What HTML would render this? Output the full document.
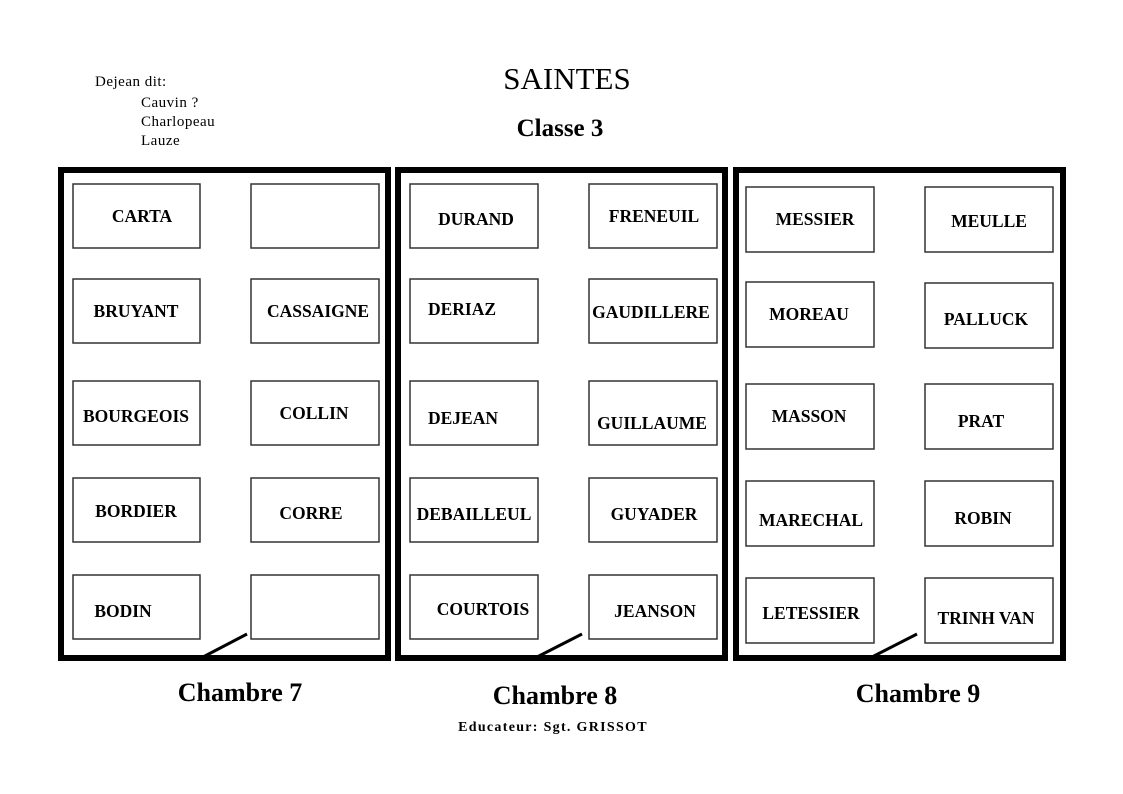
<!DOCTYPE html>
<html><head><meta charset="utf-8"><style>
html,body{margin:0;padding:0;background:#fff;}
svg{display:block;}
.b{font-family:"Liberation Serif",serif;font-weight:bold;font-size:17.5px;fill:#000;text-anchor:middle;dominant-baseline:central;}
.n{font-family:"Liberation Serif",serif;font-size:15px;letter-spacing:0.5px;fill:#000;}
</style></head><body>
<svg width="1123" height="794" viewBox="0 0 1123 794" xmlns="http://www.w3.org/2000/svg">
<text x="567" y="89" font-family="Liberation Serif,serif" font-size="31" text-anchor="middle">SAINTES</text>
<text x="560" y="136" font-family="Liberation Serif,serif" font-size="25" font-weight="bold" text-anchor="middle">Classe 3</text>
<text class="n" x="95" y="86">Dejean dit:</text>
<text class="n" x="141" y="107">Cauvin ?</text>
<text class="n" x="141" y="126">Charlopeau</text>
<text class="n" x="141" y="145">Lauze</text>

<g fill="none" stroke="#000" stroke-width="6">
<rect x="61" y="170" width="327" height="488"/>
<rect x="398" y="170" width="327" height="488"/>
<rect x="736" y="170" width="327" height="488"/>
</g>
<g fill="none" stroke="#000" stroke-width="3">
<line x1="203" y1="657" x2="247" y2="634"/>
<line x1="537" y1="657" x2="582" y2="634"/>
<line x1="872" y1="657" x2="917" y2="634"/>
</g>
<g fill="#fff" stroke="#333" stroke-width="1.5">
<rect x="73" y="184" width="127" height="64"/><rect x="251" y="184" width="128" height="64"/>
<rect x="73" y="279" width="127" height="64"/><rect x="251" y="279" width="128" height="64"/>
<rect x="73" y="381" width="127" height="64"/><rect x="251" y="381" width="128" height="64"/>
<rect x="73" y="478" width="127" height="64"/><rect x="251" y="478" width="128" height="64"/>
<rect x="73" y="575" width="127" height="64"/><rect x="251" y="575" width="128" height="64"/>
<rect x="410" y="184" width="128" height="64"/><rect x="589" y="184" width="128" height="64"/>
<rect x="410" y="279" width="128" height="64"/><rect x="589" y="279" width="128" height="64"/>
<rect x="410" y="381" width="128" height="64"/><rect x="589" y="381" width="128" height="64"/>
<rect x="410" y="478" width="128" height="64"/><rect x="589" y="478" width="128" height="64"/>
<rect x="410" y="575" width="128" height="64"/><rect x="589" y="575" width="128" height="64"/>
<rect x="746" y="187" width="128" height="65"/><rect x="925" y="187" width="128" height="65"/>
<rect x="746" y="282" width="128" height="65"/><rect x="925" y="283" width="128" height="65"/>
<rect x="746" y="384" width="128" height="65"/><rect x="925" y="384" width="128" height="65"/>
<rect x="746" y="481" width="128" height="65"/><rect x="925" y="481" width="128" height="65"/>
<rect x="746" y="578" width="128" height="65"/><rect x="925" y="578" width="128" height="65"/>
</g>
<g>
<text class="b" x="142" y="216">CARTA</text>
<text class="b" x="136" y="311">BRUYANT</text>
<text class="b" x="136" y="416">BOURGEOIS</text>
<text class="b" x="136" y="511">BORDIER</text>
<text class="b" x="123" y="611">BODIN</text>
<text class="b" x="318" y="311">CASSAIGNE</text>
<text class="b" x="314" y="413">COLLIN</text>
<text class="b" x="311" y="513">CORRE</text>
<text class="b" x="476" y="219">DURAND</text>
<text class="b" x="462" y="309">DERIAZ</text>
<text class="b" x="463" y="418">DEJEAN</text>
<text class="b" x="474" y="514">DEBAILLEUL</text>
<text class="b" x="483" y="609">COURTOIS</text>
<text class="b" x="654" y="216">FRENEUIL</text>
<text class="b" x="651" y="312">GAUDILLERE</text>
<text class="b" x="652" y="423">GUILLAUME</text>
<text class="b" x="654" y="514">GUYADER</text>
<text class="b" x="655" y="611">JEANSON</text>
<text class="b" x="815" y="219">MESSIER</text>
<text class="b" x="809" y="314">MOREAU</text>
<text class="b" x="809" y="416">MASSON</text>
<text class="b" x="811" y="520">MARECHAL</text>
<text class="b" x="811" y="613">LETESSIER</text>
<text class="b" x="989" y="221">MEULLE</text>
<text class="b" x="986" y="319">PALLUCK</text>
<text class="b" x="981" y="421">PRAT</text>
<text class="b" x="983" y="518">ROBIN</text>
<text class="b" x="986" y="618">TRINH VAN</text>
</g>
<g font-family="Liberation Serif,serif" font-weight="bold" font-size="26" text-anchor="middle">
<text x="240" y="701">Chambre 7</text>
<text x="555" y="704">Chambre 8</text>
<text x="918" y="702">Chambre 9</text>
</g>
<text x="553" y="731" font-family="Liberation Serif,serif" font-weight="bold" font-size="14" letter-spacing="1.3" text-anchor="middle">Educateur: Sgt. GRISSOT</text>
</svg>
</body></html>
